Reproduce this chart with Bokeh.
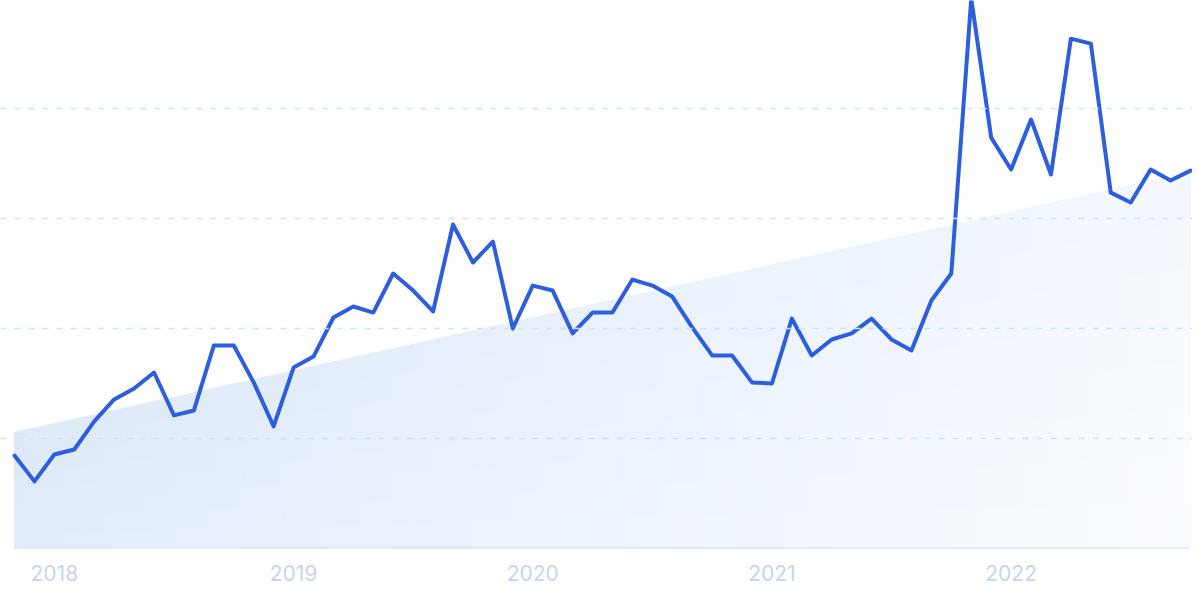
from bokeh.plotting import figure
from bokeh.models import FixedTicker, Range1d, ColumnDataSource
from bokeh.embed import file_html
from bokeh.resources import INLINE

# Monthly interest index, Nov 2017 .. Oct 2022
months = [f"{y}-{m:02d}" for y, m in
          [(2017, 11), (2017, 12)] + [(y, m) for y in range(2018, 2022) for m in range(1, 13)]
          + [(2022, m) for m in range(1, 11)]]
values = [16.9, 12.2, 17.1, 18.0, 23.1, 27.1, 29.1, 32.0, 24.2, 25.1,
          36.9, 36.9, 30.2, 22.2, 32.9, 34.9, 42.0, 44.0, 42.9, 50.0,
          46.9, 43.1, 58.9, 52.0, 55.8, 40.0, 47.8, 46.9, 39.1, 42.9,
          42.9, 48.9, 47.8, 45.8, 40.2, 35.1, 35.1, 30.2, 30.0, 41.8,
          35.1, 38.0, 39.1, 41.8, 38.0, 36.0, 45.1, 50.0, 100.0, 74.7,
          68.9, 78.0, 68.0, 92.7, 91.8, 64.7, 62.9, 68.9, 66.9, 68.7]
trend_start = 21.1
trend_end = 68.4
grid_values = [20, 40, 60, 80]
tick_years = ["2018", "2019", "2020", "2021", "2022"]

n = len(values)
idx = list(range(n))
tick_idx = [months.index(f"{y}-01") for y in tick_years]

W, H = 1192, 591
frame_h = 548
px_per_unit = 5.5
p = figure(width=W, height=H, output_backend="svg", toolbar_location=None,
           min_border_left=0, min_border_right=0, min_border_top=0,
           min_border_bottom=H - frame_h)
p.outline_line_color = None
p.background_fill_color = "white"
p.border_fill_color = "white"

left_px, right_px = 14, 1190
scale = (right_px - left_px) / (n - 1)
p.x_range = Range1d(-left_px / scale, (n - 1) + (W - right_px) / scale)
p.y_range = Range1d(0, frame_h / px_per_unit)

# gradient trend area built from small cells
c0 = (221, 233, 249)
c1 = (250, 252, 255)
def col(f):
    f = max(0.0, min(1.0, f))
    return "#%02x%02x%02x" % tuple(int(round(a + (b - a) * f)) for a, b in zip(c0, c1))

def trend(x):
    return trend_start + (trend_end - trend_start) * x / (n - 1)

xs_list, ys_list, colors = [], [], []
sub = 2
K = 8
steps = (n - 1) * sub
for s in range(steps):
    xa = s / sub
    xb = (s + 1) / sub
    ta, tb = trend(xa), trend(xb)
    xm = (xa + xb) / 2 / (n - 1)
    for k in range(K):
        fa, fb = k / K, (k + 1) / K
        xs_list.append([xa, xa, xb, xb])
        ys_list.append([ta * fa, ta * fb, tb * fb, tb * fa])
        ym = (k + 0.5) / K
        colors.append(col(0.8 * xm + 0.2 * (1 - ym)))
src = ColumnDataSource(dict(xs=xs_list, ys=ys_list, c=colors))
p.patches("xs", "ys", source=src, fill_color="c", line_color="c", line_width=1)

# dashed grid lines
p.xgrid.visible = False
p.ygrid.ticker = FixedTicker(ticks=grid_values)
p.ygrid.grid_line_color = "#c9e4fb"
p.ygrid.grid_line_width = 1.5
p.ygrid.grid_line_dash = "6 8"
p.ygrid.level = "overlay"

# baseline
p.line([idx[0], idx[-1]], [0, 0], line_color="#d6e4f7", line_width=2.5)

# main line
p.line(idx, values, line_color="#2e5ee0", line_width=4, line_join="round", line_cap="round")

p.yaxis.visible = False
ax = p.xaxis[0]
ax.ticker = FixedTicker(ticks=tick_idx)
ax.major_label_overrides = {i: y for i, y in zip(tick_idx, tick_years)}
ax.axis_line_color = None
ax.major_tick_line_color = None
ax.minor_tick_line_color = None
ax.major_label_text_color = "#c6d4f3"
ax.major_label_text_font = "Inter"
ax.major_label_text_font_size = "21px"
ax.major_label_standoff = 10

open("out.html", "w").write(file_html(p, INLINE))
